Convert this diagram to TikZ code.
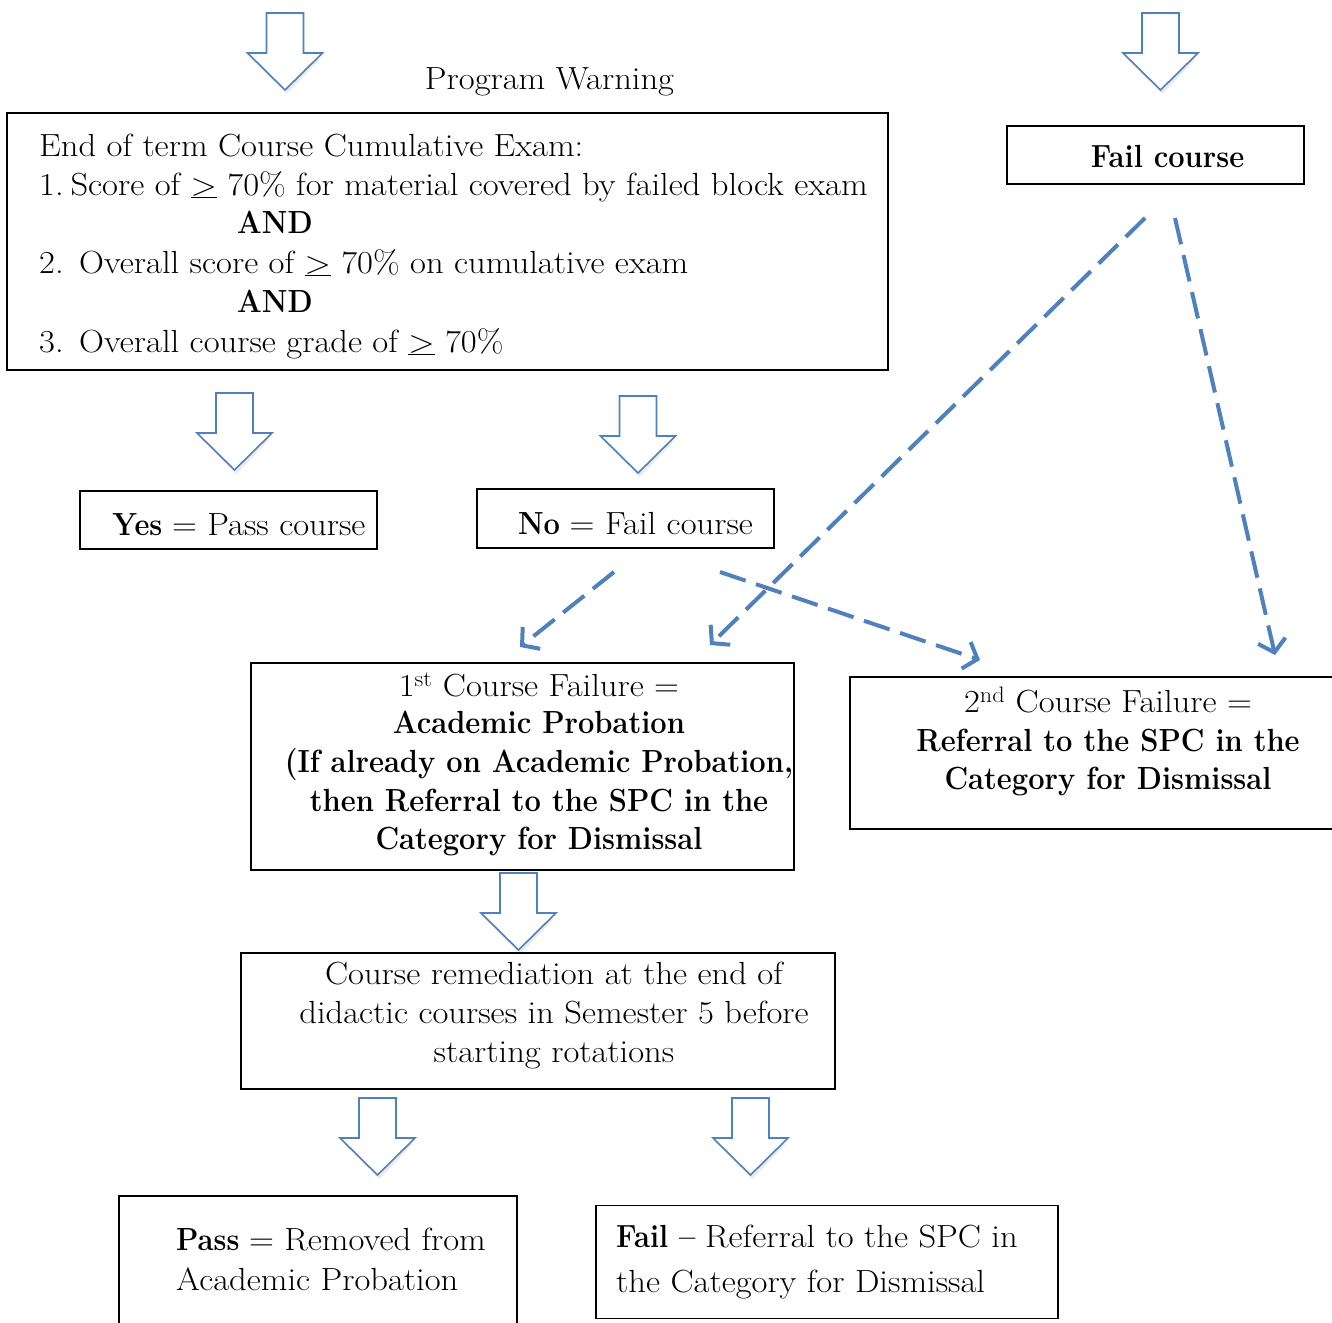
\documentclass[tikz,border=0pt]{standalone}
\usepackage{fontspec}
\usepackage{graphicx}
\usetikzlibrary{arrows.meta}
\definecolor{arrowblue}{HTML}{4F81BD}
\newcommand{\bnar}[1]{\scalebox{0.91}[1]{\bfseries #1}}
\newcommand{\rw}[1]{\scalebox{1.08}[1]{#1}}
\tikzset{
  box/.style={draw=black, line width=1.3pt, inner sep=0pt},
  txt/.style={font=\fontsize{32}{39}\selectfont, inner sep=0pt, anchor=base},
  txtl/.style={txt, anchor=base west},
  blockarrow/.pic={
     \fill[black, opacity=0.08] (-16,6) -- (16,6) -- (16,46) -- (35,46) -- (2,81) -- (-33,46) -- (-16,46) -- cycle;
     \draw[arrowblue, line width=1.6pt, line join=miter, fill=white]
     (-18.5,0) -- (18.5,0) -- (18.5,40) -- (37.5,40) -- (0,77) -- (-37.5,40) -- (-18.5,40) -- cycle;},
  dasharrow/.style={draw=arrowblue, line width=4pt, dash pattern=on 27pt off 11pt,
     -{Straight Barb[length=12pt,width=28pt,line width=4pt]}}
}
\begin{document}
\begin{tikzpicture}[x=1pt,y=-1pt]
\clip (0,0) rectangle (1332,1322);
\fill[white] (0,0) rectangle (1332,1322);

% block arrows
\pic at (285,13) {blockarrow};
\pic at (1160.5,13) {blockarrow};
\pic at (234.5,393) {blockarrow};
\pic at (638,396) {blockarrow};
\pic at (518.5,873) {blockarrow};
\pic at (377.5,1098) {blockarrow};
\pic at (750.5,1098) {blockarrow};

% boxes
\node[box, fill=white, minimum width=881pt, minimum height=257pt] (mainbox) at (447.5,241.5) {};
\node[box, fill=white, minimum width=297pt, minimum height=58pt] (failbox) at (1155.5,155) {};
\node[box, fill=white, minimum width=297pt, minimum height=58pt] (yesbox) at (228.5,520) {};
\node[box, fill=white, minimum width=297pt, minimum height=59pt] (nobox) at (625.5,518.5) {};
\node[box, fill=white, minimum width=543pt, minimum height=207pt] (firstbox) at (522.5,766.5) {};
\node[box, fill=white, minimum width=495pt, minimum height=152pt] (secondbox) at (1097.5,753) {};
\node[box, fill=white, minimum width=594pt, minimum height=136pt] (remedbox) at (538,1021) {};
\node[box, fill=white, minimum width=398pt, minimum height=144pt] (passbox) at (318,1268) {};
\node[box, fill=white, minimum width=462pt, minimum height=113pt] (failbox2) at (827,1262) {};

% texts
\node[txt] (pw) at (549.5,89) {\rw{Program Warning}};

\node[txtl] (m1) at (39,156) {\rw{End of term Course Cumulative Exam:}};
\node[txtl] (m2) at (39,195) {\rw{\makebox[29pt][l]{1.}Score of \underline{>} 70\% for material covered by failed block exam}};
\node[txtl] (m3) at (237,233) {\bnar{AND}};
\node[txtl] (m4) at (39,273) {\rw{\makebox[37pt][l]{2.}Overall score of \underline{>} 70\% on cumulative exam}};
\node[txtl] (m5) at (237,312) {\bnar{AND}};
\node[txtl] (m6) at (39,352) {\rw{\makebox[37pt][l]{3.}Overall course grade of \underline{>} 70\%}};

\node[txt] (fc) at (1167.5,167) {\bnar{Fail course}};
\node[txt] (yes) at (239,535) {\bnar{Yes}\ \rw{= Pass course}};
\node[txt] (no) at (635.5,534) {\bnar{No}\ \rw{= Fail course}};

\node[txt] (f1) at (539,696) {\rw{1\textsuperscript{st} Course Failure =}};
\node[txt] (f2) at (539,733) {\bnar{Academic Probation}};
\node[txt] (f3) at (539,772) {\bnar{(If already on Academic Probation,}};
\node[txt] (f4) at (539,811) {\bnar{then Referral to the SPC in the}};
\node[txt] (f5) at (539,849) {\bnar{Category for Dismissal}};

\node[txt] (s1) at (1108,712) {\rw{2\textsuperscript{nd} Course Failure =}};
\node[txt] (s2) at (1108,751) {\bnar{Referral to the SPC in the}};
\node[txt] (s3) at (1108,789) {\bnar{Category for Dismissal}};

\node[txt] (r1) at (554,984) {\rw{Course remediation at the end of}};
\node[txt] (r2) at (554,1023) {\rw{didactic courses in Semester 5 before}};
\node[txt] (r3) at (554,1062) {\rw{starting rotations}};

\node[txtl] (p1) at (176,1250) {\bnar{Pass}\ \rw{= Removed from}};
\node[txtl] (p2) at (176,1290) {\rw{Academic Probation}};

\node[txtl] (q1) at (616,1247) {\bnar{Fail --}\ \rw{Referral to the SPC in}};
\node[txtl] (q2) at (616,1292) {\rw{the Category for Dismissal}};

% dashed connectors
\coordinate (noL) at (614,572);
\coordinate (noR) at (720,572);
\coordinate (fcL) at (1145,218);
\coordinate (fcR) at (1175,218);
\coordinate (t1) at (520,647);
\coordinate (t2) at (710,645);
\coordinate (t3) at (980,660);
\coordinate (t4) at (1275,655);
\draw[dasharrow] (noL) -- (t1);
\draw[dasharrow] (fcL) -- (t2);
\draw[dasharrow] (noR) -- (t3);
\draw[dasharrow] (fcR) -- (t4);
\end{tikzpicture}
\end{document}
